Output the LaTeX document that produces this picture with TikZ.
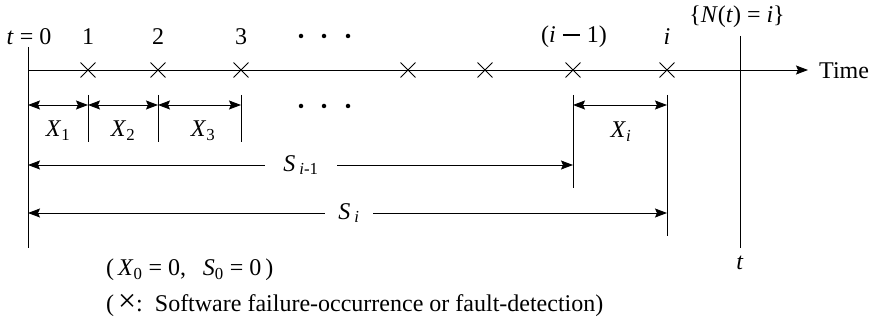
\documentclass[tikz,border=0pt]{standalone}
\usepackage{fontspec}
\setmainfont{Liberation Serif}
\usetikzlibrary{arrows.meta,shapes.misc}
\tikzset{
  lbl/.style={inner sep=0pt, font=\fontsize{24}{28}\selectfont},
  xmark/.style={cross out, draw, minimum size=14pt, inner sep=0pt, line width=0.9pt},
  tip/.style={-{Stealth[length=12pt,width=9pt,inset=2pt]}},
  dtip/.style={{Stealth[length=12pt,width=9pt,inset=2pt]}-{Stealth[length=12pt,width=9pt,inset=2pt]}},
  ln/.style={line width=0.95pt},
  dotm/.style={circle, fill, inner sep=0pt, minimum size=4.5pt},
  gap/.style={inner sep=0pt, font=\fontsize{24}{28}\selectfont}
}
\newcommand{\iv}[1]{\textit{#1}}
\newcommand{\longminus}{\raisebox{0.28em}{\rule{0.7em}{1.6pt}}}
\begin{document}
\begin{tikzpicture}[x=1pt,y=-1pt]
\useasboundingbox (0,0) rectangle (879,320);
% coordinates
\coordinate (o) at (28,70);
\coordinate (otop) at (28,47);
\coordinate (obot) at (28,248);
\coordinate (tend) at (808,70);
\coordinate (ttop) at (740,36);
\coordinate (tbot) at (740,248);
% axis
\draw[ln, tip] (o) -- (tend);
\node[lbl, anchor=west] (time) at (819,71) {Time};
\draw[ln] (otop) -- (obot);
\draw[ln] (ttop) -- (tbot);
% crosses
\node[xmark] (c1) at (88,70) {};
\node[xmark] (c2) at (158,70) {};
\node[xmark] (c3) at (241,70) {};
\node[xmark] (c4) at (408,70) {};
\node[xmark] (c5) at (485,70) {};
\node[xmark] (c6) at (573,70) {};
\node[xmark] (c7) at (667,70) {};
% top labels
\node[lbl] (l0) at (29,37) {\iv{t} = 0};
\node[lbl] (l1) at (88,37) {1};
\node[lbl] (l2) at (158,37) {2};
\node[lbl] (l3) at (241,37) {3};
\node[lbl] (lim1) at (574,37) {(\iv{i}\hspace{0.3em}\longminus\hspace{0.3em}1)};
\node[lbl] (li) at (667,37) {\iv{i}};
\node[lbl] (lN) at (737,17) {\{\iv{N}(\iv{t}) = \iv{i}\}};
\foreach \xx in {301,324,348}{
  \node[dotm] at (\xx,36) {};
  \node[dotm] at (\xx,106) {};
}
% tick coordinates
\coordinate (k1t) at (88,95);  \coordinate (k1b) at (88,142);
\coordinate (k2t) at (158,95); \coordinate (k2b) at (158,142);
\coordinate (k3t) at (241,95); \coordinate (k3b) at (241,142);
\coordinate (k6t) at (573,95); \coordinate (k6b) at (573,188);
\coordinate (k7t) at (667,95); \coordinate (k7b) at (667,236);
\draw[ln] (k1t) -- (k1b);
\draw[ln] (k2t) -- (k2b);
\draw[ln] (k3t) -- (k3b);
\draw[ln] (k6t) -- (k6b);
\draw[ln] (k7t) -- (k7b);
% X arrows
\coordinate (a0) at (28,105);
\coordinate (a1) at (88,105);
\coordinate (a2) at (158,105);
\coordinate (a3) at (241,105);
\coordinate (a6) at (573,105);
\coordinate (a7) at (667,105);
\draw[ln, dtip] (a0) -- (a1);
\draw[ln, dtip] (a1) -- (a2);
\draw[ln, dtip] (a2) -- (a3);
\draw[ln, dtip] (a6) -- (a7);
\node[lbl] (x1) at (58,131) {\iv{X}\textsubscript{1}};
\node[lbl] (x2) at (123,131) {\iv{X}\textsubscript{2}};
\node[lbl] (x3) at (203,131) {\iv{X}\textsubscript{3}};
\node[lbl] (xi) at (621,132) {\iv{X}\textsubscript{\iv{i}}};
% S arrows
\node[gap, minimum width=72pt] (si1) at (301,165) {\iv{S}\,\textsubscript{\iv{i}-1}};
\coordinate (s1l) at (28,165);
\coordinate (s1r) at (573,165);
\draw[ln, tip] (si1.west) -- (s1l);
\draw[ln, tip] (si1.east) -- (s1r);
\node[gap, minimum width=48pt] (si) at (349,213) {\iv{S}\,\textsubscript{\iv{i}}};
\coordinate (s2l) at (28,213);
\coordinate (s2r) at (667,213);
\draw[ln, tip] (si.west) -- (s2l);
\draw[ln, tip] (si.east) -- (s2r);
% bottom
\node[lbl] (tl) at (740,263) {\iv{t}};
\node[lbl, anchor=west] (cond) at (106,270) {(\,\iv{X}\textsubscript{0} = 0,\hspace{0.7em}\iv{S}\textsubscript{0} = 0\,)};
\node[lbl, anchor=west] (leg) at (106,305) {(\,{\fontsize{32}{32}\selectfont ×}:\, Software failure-occurrence or fault-detection)};
\end{tikzpicture}
\end{document}
